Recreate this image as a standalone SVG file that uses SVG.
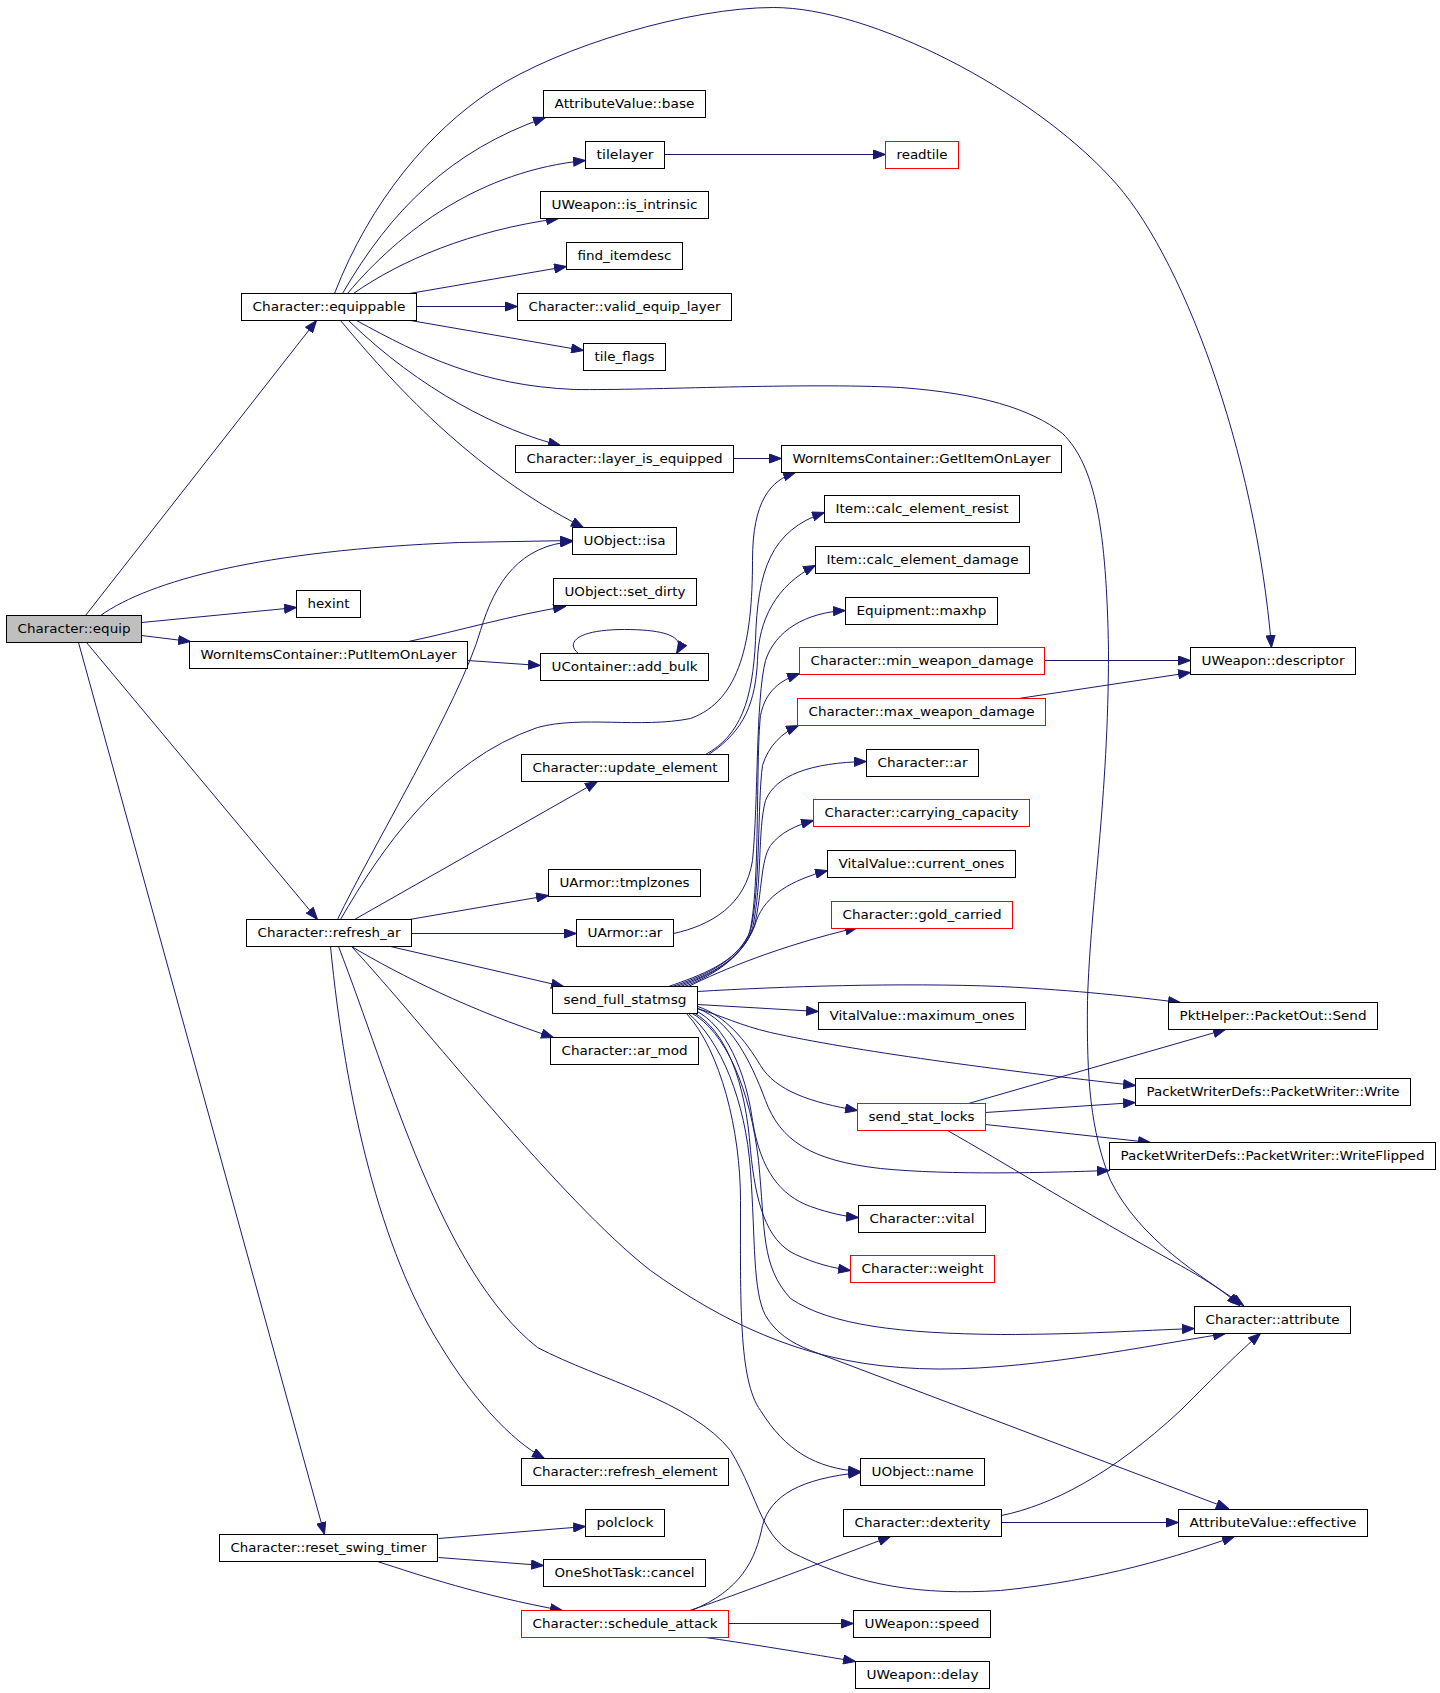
<svg xmlns="http://www.w3.org/2000/svg" width="1440" height="1693" viewBox="0 0 1440 1693">
<style>
.n rect{fill:#fff;stroke:#000;stroke-width:1}
.n.r rect{stroke:#f00}
.n.g rect{fill:#bfbfbf}
.n text{font-family:"DejaVu Sans","Liberation Sans",sans-serif;font-size:13px;text-anchor:middle;fill:#000}
.e path{fill:none;stroke:#191970;stroke-width:1;marker-end:url(#a)}
</style>
<defs>
<marker id="a" markerWidth="13" markerHeight="10" refX="12.5" refY="5" orient="auto" markerUnits="userSpaceOnUse"><path d="M0.5,0.5 L12.5,5 L0.5,9.5 z" fill="#191970" stroke="#191970" stroke-width="1"/></marker>
</defs>
<rect width="1440" height="1693" fill="#fff"/>
<g transform="translate(0.5 0.5)">
<g id="edges" class="e">
<path d="M85,615 L316,320"/>
<path d="M100,615 C150,580 260,550 459,542 L572,540"/>
<path d="M141,622 L296,607"/>
<path d="M141,635 L190,641"/>
<path d="M86,642 L317,919"/>
<path d="M78,642 L324,1534"/>
<path d="M342,293 C390,210 450,150 545,117"/>
<path d="M347,293 C400,230 480,170 585,160"/>
<path d="M353,293 C400,260 470,230 558,218"/>
<path d="M409,293 L566,266"/>
<path d="M416,306 L517,306"/>
<path d="M410,320 L583,350"/>
<path d="M356,320 C420,355 480,385 574,389 C650,390 800,382 900,387 C980,393 1030,408 1062,433 C1095,465 1106,530 1108,650 C1108,800 1090,900 1087,1000 C1086,1080 1090,1130 1110,1180 C1140,1240 1200,1275 1243,1305"/>
<path d="M348,320 C420,390 500,430 560,445"/>
<path d="M340,320 C390,380 470,470 583,527"/>
<path d="M334,293 C370,200 430,130 491,90 C560,45 690,7 773,7 C870,7 1030,90 1110,177 C1180,250 1255,450 1271,647"/>
<path d="M664,154 L885,154"/>
<path d="M733,458 L781,458"/>
<path d="M408,641 C460,630 510,615 565,606"/>
<path d="M467,660 L540,665"/>
<path d="M578,653 C565,643 575,629 624,629 C670,629 685,638 676,653"/>
<path d="M337,919 C370,850 460,700 480,630 C495,580 520,545 572,541"/>
<path d="M340,919 C380,850 440,760 537,727 C580,715 640,728 690,718 C740,700 752,640 752,560 C752,500 770,480 795,472"/>
<path d="M354,919 L597,781"/>
<path d="M409,919 L548,895"/>
<path d="M411,933 L576,933"/>
<path d="M390,946 L563,986"/>
<path d="M351,946 C400,975 470,1010 553,1037"/>
<path d="M330,946 C345,1100 380,1250 440,1345 C470,1395 510,1440 544,1458"/>
<path d="M338,946 C390,1080 440,1270 537,1347 C600,1380 690,1400 730,1450 C760,1500 760,1540 800,1556 C860,1585 920,1595 1000,1590 C1100,1580 1180,1555 1234,1536"/>
<path d="M351,946 C420,1020 560,1200 650,1270 C720,1320 800,1360 900,1367 C1000,1375 1120,1350 1225,1333"/>
<path d="M705,754 C740,735 752,700 755,640 C757,570 770,530 824,512"/>
<path d="M708,754 C745,730 755,700 757,660 C758,620 775,585 815,565"/>
<path d="M673,933 C710,925 745,905 752,860 C758,800 755,700 765,660 C775,630 805,612 845,610"/>
<path d="M1044,660 L1190,660"/>
<path d="M1018,698 L1190,672"/>
<path d="M668,986 C700,975 735,962 748,935 C760,900 755,760 760,715 C765,690 780,680 799,673"/>
<path d="M672,986 C705,975 738,960 750,930 C760,890 757,800 762,765 C768,745 782,732 798,725"/>
<path d="M676,986 C710,974 740,960 752,928 C762,880 757,830 765,800 C775,775 810,762 866,761"/>
<path d="M680,986 C712,974 742,958 754,925 C762,890 760,860 770,845 C780,832 795,825 813,820"/>
<path d="M684,986 C715,974 745,955 756,920 C765,895 790,880 827,870"/>
<path d="M688,986 C720,970 780,945 857,927"/>
<path d="M697,991 C780,986 900,982 1000,986 C1080,990 1130,996 1180,1002"/>
<path d="M697,1004 L818,1011"/>
<path d="M697,1008 C720,1015 740,1025 770,1032 C850,1050 1000,1070 1135,1085"/>
<path d="M697,1006 C725,1015 745,1040 760,1065 C775,1090 810,1102 857,1110"/>
<path d="M697,1008 C730,1020 750,1060 765,1100 C780,1140 810,1160 880,1168 C950,1175 1050,1172 1109,1170"/>
<path d="M695,1010 C725,1025 745,1070 752,1120 C760,1170 780,1195 810,1206 C830,1213 845,1216 858,1217"/>
<path d="M693,1012 C725,1030 745,1080 750,1150 C755,1200 765,1240 795,1254 C815,1263 830,1267 850,1270"/>
<path d="M690,1012 C725,1030 750,1090 758,1160 C765,1230 760,1265 790,1298 C830,1325 900,1333 1000,1334 C1080,1334 1140,1330 1194,1328"/>
<path d="M688,1013 C720,1040 745,1100 750,1170 C755,1240 752,1290 765,1315 C775,1332 790,1342 810,1350 L1228,1508"/>
<path d="M686,1013 C720,1050 740,1130 740,1200 C740,1300 738,1380 760,1410 C785,1450 815,1468 860,1471"/>
<path d="M968,1103 L1225,1029"/>
<path d="M985,1112 L1135,1102"/>
<path d="M985,1124 L1150,1142"/>
<path d="M947,1130 C1000,1160 1080,1210 1180,1265 C1210,1282 1225,1292 1239,1305"/>
<path d="M438,1538 L585,1526"/>
<path d="M438,1557 L543,1565"/>
<path d="M377,1561 C420,1575 480,1595 562,1610"/>
<path d="M728,1623 L853,1623"/>
<path d="M705,1637 C740,1642 790,1650 855,1661"/>
<path d="M689,1610 C720,1600 800,1570 890,1536"/>
<path d="M691,1610 C740,1590 755,1560 762,1525 C770,1495 800,1478 860,1472"/>
<path d="M1001,1522 L1178,1522"/>
<path d="M1001,1515 C1050,1505 1110,1475 1180,1410 C1215,1375 1240,1350 1260,1333"/>
</g>
<g id="n1" class="n g"><rect x="6" y="615" width="135" height="27"/><text x="73.5" y="632" textLength="113" lengthAdjust="spacingAndGlyphs">Character::equip</text></g>
<g id="n2" class="n"><rect x="241" y="293" width="175" height="27"/><text x="328.5" y="310" textLength="153" lengthAdjust="spacingAndGlyphs">Character::equippable</text></g>
<g id="n3" class="n"><rect x="543" y="90" width="162" height="27"/><text x="624" y="107" textLength="140" lengthAdjust="spacingAndGlyphs">AttributeValue::base</text></g>
<g id="n4" class="n"><rect x="585" y="141" width="79" height="27"/><text x="624.5" y="158" textLength="57" lengthAdjust="spacingAndGlyphs">tilelayer</text></g>
<g id="n5" class="n r"><rect x="885" y="141" width="73" height="27"/><text x="921.5" y="158" textLength="51" lengthAdjust="spacingAndGlyphs">readtile</text></g>
<g id="n6" class="n"><rect x="540" y="191" width="168" height="27"/><text x="624" y="208" textLength="146" lengthAdjust="spacingAndGlyphs">UWeapon::is_intrinsic</text></g>
<g id="n7" class="n"><rect x="566" y="242" width="116" height="27"/><text x="624" y="259" textLength="94" lengthAdjust="spacingAndGlyphs">find_itemdesc</text></g>
<g id="n8" class="n"><rect x="517" y="293" width="214" height="27"/><text x="624" y="310" textLength="192" lengthAdjust="spacingAndGlyphs">Character::valid_equip_layer</text></g>
<g id="n9" class="n"><rect x="583" y="343" width="82" height="27"/><text x="624" y="360" textLength="60" lengthAdjust="spacingAndGlyphs">tile_flags</text></g>
<g id="n10" class="n"><rect x="515" y="445" width="218" height="27"/><text x="624" y="462" textLength="196" lengthAdjust="spacingAndGlyphs">Character::layer_is_equipped</text></g>
<g id="n11" class="n"><rect x="781" y="445" width="280" height="27"/><text x="921" y="462" textLength="258" lengthAdjust="spacingAndGlyphs">WornItemsContainer::GetItemOnLayer</text></g>
<g id="n12" class="n"><rect x="824" y="495" width="195" height="27"/><text x="921.5" y="512" textLength="173" lengthAdjust="spacingAndGlyphs">Item::calc_element_resist</text></g>
<g id="n13" class="n"><rect x="815" y="546" width="214" height="27"/><text x="922" y="563" textLength="192" lengthAdjust="spacingAndGlyphs">Item::calc_element_damage</text></g>
<g id="n14" class="n"><rect x="845" y="597" width="152" height="27"/><text x="921" y="614" textLength="130" lengthAdjust="spacingAndGlyphs">Equipment::maxhp</text></g>
<g id="n15" class="n r"><rect x="799" y="647" width="245" height="27"/><text x="921.5" y="664" textLength="223" lengthAdjust="spacingAndGlyphs">Character::min_weapon_damage</text></g>
<g id="n16" class="n"><rect x="1190" y="647" width="165" height="27"/><text x="1272.5" y="664" textLength="143" lengthAdjust="spacingAndGlyphs">UWeapon::descriptor</text></g>
<g id="n17" class="n r"><rect x="797" y="698" width="248" height="27"/><text x="921" y="715" textLength="226" lengthAdjust="spacingAndGlyphs">Character::max_weapon_damage</text></g>
<g id="n18" class="n"><rect x="866" y="749" width="112" height="27"/><text x="922" y="766" textLength="90" lengthAdjust="spacingAndGlyphs">Character::ar</text></g>
<g id="n19" class="n r"><rect x="813" y="799" width="216" height="27"/><text x="921" y="816" textLength="194" lengthAdjust="spacingAndGlyphs">Character::carrying_capacity</text></g>
<g id="n20" class="n"><rect x="827" y="850" width="188" height="27"/><text x="921" y="867" textLength="166" lengthAdjust="spacingAndGlyphs">VitalValue::current_ones</text></g>
<g id="n21" class="n r"><rect x="831" y="901" width="181" height="27"/><text x="921.5" y="918" textLength="159" lengthAdjust="spacingAndGlyphs">Character::gold_carried</text></g>
<g id="n22" class="n"><rect x="572" y="527" width="104" height="27"/><text x="624" y="544" textLength="82" lengthAdjust="spacingAndGlyphs">UObject::isa</text></g>
<g id="n23" class="n"><rect x="553" y="578" width="143" height="27"/><text x="624.5" y="595" textLength="121" lengthAdjust="spacingAndGlyphs">UObject::set_dirty</text></g>
<g id="n24" class="n"><rect x="296" y="590" width="64" height="27"/><text x="328" y="607" textLength="42" lengthAdjust="spacingAndGlyphs">hexint</text></g>
<g id="n25" class="n"><rect x="189" y="641" width="278" height="27"/><text x="328" y="658" textLength="256" lengthAdjust="spacingAndGlyphs">WornItemsContainer::PutItemOnLayer</text></g>
<g id="n26" class="n"><rect x="540" y="653" width="168" height="27"/><text x="624" y="670" textLength="146" lengthAdjust="spacingAndGlyphs">UContainer::add_bulk</text></g>
<g id="n27" class="n"><rect x="521" y="754" width="207" height="27"/><text x="624.5" y="771" textLength="185" lengthAdjust="spacingAndGlyphs">Character::update_element</text></g>
<g id="n28" class="n"><rect x="548" y="869" width="152" height="27"/><text x="624" y="886" textLength="130" lengthAdjust="spacingAndGlyphs">UArmor::tmplzones</text></g>
<g id="n29" class="n"><rect x="246" y="919" width="165" height="27"/><text x="328.5" y="936" textLength="143" lengthAdjust="spacingAndGlyphs">Character::refresh_ar</text></g>
<g id="n30" class="n"><rect x="576" y="919" width="97" height="27"/><text x="624.5" y="936" textLength="75" lengthAdjust="spacingAndGlyphs">UArmor::ar</text></g>
<g id="n31" class="n"><rect x="552" y="986" width="145" height="27"/><text x="624.5" y="1003" textLength="123" lengthAdjust="spacingAndGlyphs">send_full_statmsg</text></g>
<g id="n32" class="n"><rect x="550" y="1037" width="148" height="27"/><text x="624" y="1054" textLength="126" lengthAdjust="spacingAndGlyphs">Character::ar_mod</text></g>
<g id="n33" class="n"><rect x="818" y="1002" width="207" height="27"/><text x="921.5" y="1019" textLength="185" lengthAdjust="spacingAndGlyphs">VitalValue::maximum_ones</text></g>
<g id="n34" class="n"><rect x="1168" y="1002" width="209" height="27"/><text x="1272.5" y="1019" textLength="187" lengthAdjust="spacingAndGlyphs">PktHelper::PacketOut::Send</text></g>
<g id="n35" class="n"><rect x="1135" y="1078" width="275" height="27"/><text x="1272.5" y="1095" textLength="253" lengthAdjust="spacingAndGlyphs">PacketWriterDefs::PacketWriter::Write</text></g>
<g id="n36" class="n r"><rect x="857" y="1103" width="128" height="27"/><text x="921" y="1120" textLength="106" lengthAdjust="spacingAndGlyphs">send_stat_locks</text></g>
<g id="n37" class="n"><rect x="1109" y="1142" width="326" height="27"/><text x="1272" y="1159" textLength="304" lengthAdjust="spacingAndGlyphs">PacketWriterDefs::PacketWriter::WriteFlipped</text></g>
<g id="n38" class="n"><rect x="858" y="1205" width="127" height="27"/><text x="921.5" y="1222" textLength="105" lengthAdjust="spacingAndGlyphs">Character::vital</text></g>
<g id="n39" class="n r"><rect x="850" y="1255" width="144" height="27"/><text x="922" y="1272" textLength="122" lengthAdjust="spacingAndGlyphs">Character::weight</text></g>
<g id="n40" class="n"><rect x="1194" y="1306" width="156" height="27"/><text x="1272" y="1323" textLength="134" lengthAdjust="spacingAndGlyphs">Character::attribute</text></g>
<g id="n41" class="n"><rect x="521" y="1458" width="207" height="27"/><text x="624.5" y="1475" textLength="185" lengthAdjust="spacingAndGlyphs">Character::refresh_element</text></g>
<g id="n42" class="n"><rect x="860" y="1458" width="124" height="27"/><text x="922" y="1475" textLength="102" lengthAdjust="spacingAndGlyphs">UObject::name</text></g>
<g id="n43" class="n"><rect x="585" y="1509" width="79" height="27"/><text x="624.5" y="1526" textLength="57" lengthAdjust="spacingAndGlyphs">polclock</text></g>
<g id="n44" class="n"><rect x="843" y="1509" width="158" height="27"/><text x="922" y="1526" textLength="136" lengthAdjust="spacingAndGlyphs">Character::dexterity</text></g>
<g id="n45" class="n"><rect x="1178" y="1509" width="189" height="27"/><text x="1272.5" y="1526" textLength="167" lengthAdjust="spacingAndGlyphs">AttributeValue::effective</text></g>
<g id="n46" class="n"><rect x="219" y="1534" width="218" height="27"/><text x="328" y="1551" textLength="196" lengthAdjust="spacingAndGlyphs">Character::reset_swing_timer</text></g>
<g id="n47" class="n"><rect x="543" y="1559" width="162" height="27"/><text x="624" y="1576" textLength="140" lengthAdjust="spacingAndGlyphs">OneShotTask::cancel</text></g>
<g id="n48" class="n r"><rect x="521" y="1610" width="207" height="27"/><text x="624.5" y="1627" textLength="185" lengthAdjust="spacingAndGlyphs">Character::schedule_attack</text></g>
<g id="n49" class="n"><rect x="853" y="1610" width="137" height="27"/><text x="921.5" y="1627" textLength="115" lengthAdjust="spacingAndGlyphs">UWeapon::speed</text></g>
<g id="n50" class="n"><rect x="855" y="1661" width="134" height="27"/><text x="922" y="1678" textLength="112" lengthAdjust="spacingAndGlyphs">UWeapon::delay</text></g>
</g>
</svg>
